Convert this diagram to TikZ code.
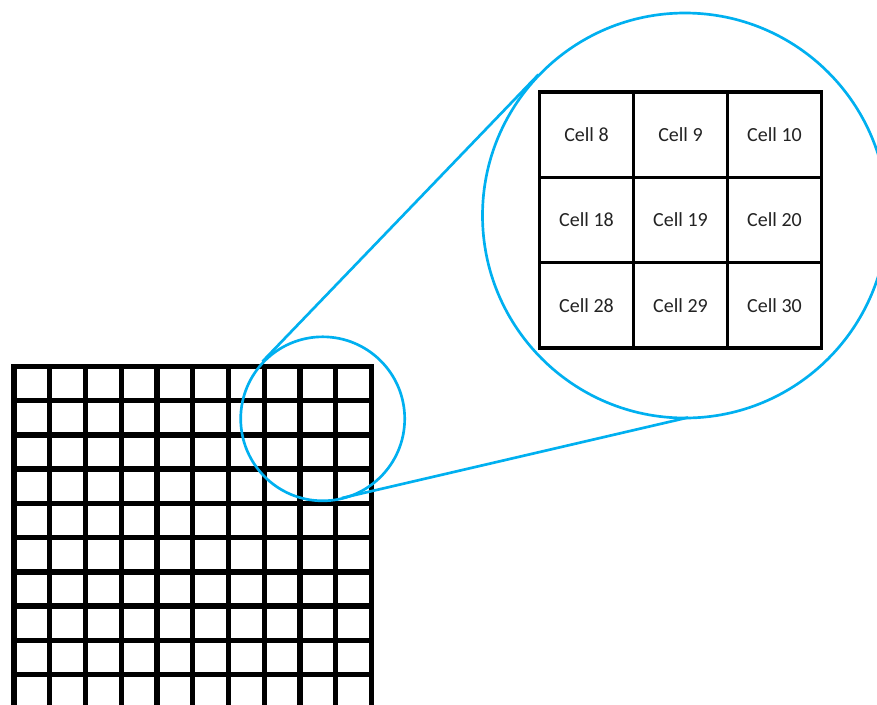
\documentclass[tikz,border=0pt]{standalone}
\usepackage{fontspec}
\setmainfont{Carlito}
\definecolor{lensblue}{RGB}{0,176,240}
\definecolor{txtgray}{RGB}{35,35,35}
\begin{document}
\begin{tikzpicture}[x=0.75pt,y=-0.75pt,
  gridline/.style={line width=4.1pt,black},
  lens/.style={line width=2pt,lensblue},
  cellbox/.style={draw=black,line width=2.7pt,minimum width=70.5pt,minimum height=64pt,
    inner sep=0pt,outer sep=0pt,text=txtgray,font=\fontsize{15}{18}\selectfont}]
\useasboundingbox (0,0) rectangle (877,704);
\fill[white] (0,0) rectangle (877,704);
\clip (0,0) rectangle (877,704);
% large grid
\foreach \i in {1,...,9} {
  \draw[gridline] ({14+35.75*\i},366.5) -- ({14+35.75*\i},708.7);
  \draw[gridline] (14,{366.5+34.22*\i}) -- (371.5,{366.5+34.22*\i});
}
\draw[gridline] (14,366.5) rectangle (371.5,708.7);
% circles
\coordinate (cs) at (322.7,418.8);
\coordinate (cb) at (685,215.5);
\draw[lens] (cs) circle (82);
\draw[lens] (cb) circle (202.5);
\coordinate (ua) at (262.5,361.5);
\coordinate (ub) at (538.5,74.5);
\coordinate (la) at (342,498);
\coordinate (lb) at (688,417.5);
\draw[lens] (ua) -- (ub);
\draw[lens] (la) -- (lb);
% zoomed table
\node[cellbox] (c8)  at (586.5,134.7) {Cell 8};
\node[cellbox] (c9)  at (680.5,134.7) {Cell 9};
\node[cellbox] (c10) at (774.5,134.7) {Cell 10};
\node[cellbox] (c18) at (586.5,220) {Cell 18};
\node[cellbox] (c19) at (680.5,220) {Cell 19};
\node[cellbox] (c20) at (774.5,220) {Cell 20};
\node[cellbox] (c28) at (586.5,305.3) {Cell 28};
\node[cellbox] (c29) at (680.5,305.3) {Cell 29};
\node[cellbox] (c30) at (774.5,305.3) {Cell 30};
\end{tikzpicture}
\end{document}
